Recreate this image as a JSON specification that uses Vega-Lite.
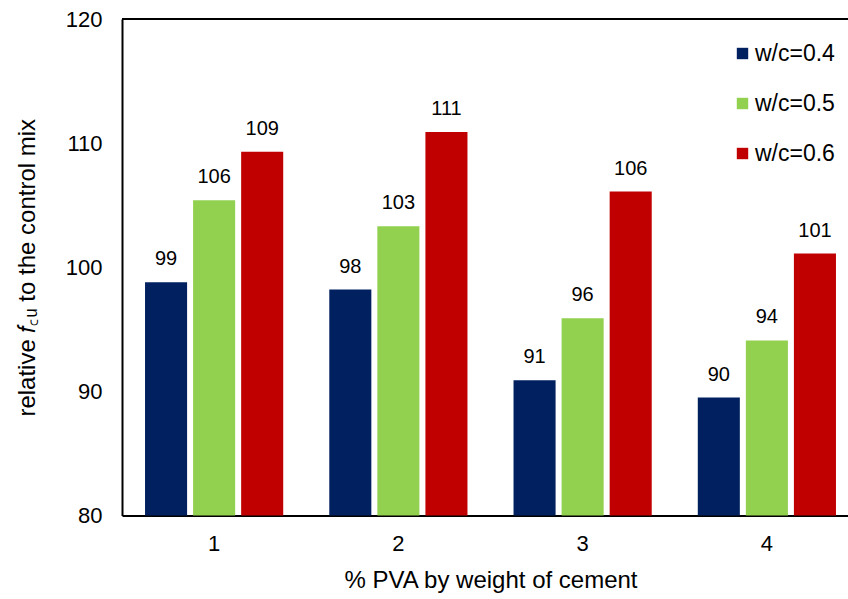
{
  "$schema": "https://vega.github.io/schema/vega-lite/v6.json",
  "autosize": {"type": "none"},
  "padding": {"left": 122, "top": 19, "right": 0, "bottom": 83.5},
  "width": 726,
  "height": 496.5,
  "config": {"view": {"stroke": null}, "font": "Liberation Sans", "background": "white"},
  "data": {
    "values": [
      {"pva": "1", "wc": "w/c=0.4", "value": 98.8, "label": "99"},
      {"pva": "1", "wc": "w/c=0.5", "value": 105.4, "label": "106"},
      {"pva": "1", "wc": "w/c=0.6", "value": 109.3, "label": "109"},
      {"pva": "2", "wc": "w/c=0.4", "value": 98.2, "label": "98"},
      {"pva": "2", "wc": "w/c=0.5", "value": 103.3, "label": "103"},
      {"pva": "2", "wc": "w/c=0.6", "value": 110.9, "label": "111"},
      {"pva": "3", "wc": "w/c=0.4", "value": 90.9, "label": "91"},
      {"pva": "3", "wc": "w/c=0.5", "value": 95.9, "label": "96"},
      {"pva": "3", "wc": "w/c=0.6", "value": 106.1, "label": "106"},
      {"pva": "4", "wc": "w/c=0.4", "value": 89.5, "label": "90"},
      {"pva": "4", "wc": "w/c=0.5", "value": 94.1, "label": "94"},
      {"pva": "4", "wc": "w/c=0.6", "value": 101.1, "label": "101"}
    ]
  },
  "layer": [
    {
      "mark": {"type": "bar"},
      "encoding": {
        "x": {
          "field": "pva", "type": "nominal",
          "scale": {"range": [0, 737], "paddingInner": 0.25, "paddingOuter": 0.125},
          "axis": {
            "title": "% PVA by weight of cement", "labelAngle": 0, "ticks": false, "grid": false,
            "domainColor": "black", "domainWidth": 2,
            "labelFontSize": 22, "labelColor": "black", "labelPadding": 18,
            "titleFontSize": 24, "titleFontWeight": "normal", "titleColor": "black", "titlePadding": 14
          }
        },
        "xOffset": {"field": "wc", "type": "nominal", "scale": {"paddingInner": 0.125, "paddingOuter": 0}},
        "y": {
          "field": "value", "type": "quantitative",
          "scale": {"domain": [80, 120], "nice": false, "zero": false},
          "axis": {
            "title": "relative 𝑓꜀ᵤ to the control mix", "values": [80, 90, 100, 110, 120],
            "ticks": false, "grid": false, "domainColor": "black", "domainWidth": 2,
            "labelFontSize": 22, "labelColor": "black", "labelPadding": 20,
            "titleFontSize": 24, "titleFontWeight": "normal", "titleColor": "black", "titlePadding": 26
          }
        },
        "y2": {"datum": 80},
        "color": {
          "field": "wc", "type": "nominal",
          "scale": {"domain": ["w/c=0.4", "w/c=0.5", "w/c=0.6"], "range": ["#002060", "#92D050", "#C00000"]},
          "legend": {
            "orient": "none", "legendX": 609, "legendY": 23, "title": null,
            "symbolType": "square", "symbolSize": 130, "symbolStrokeWidth": 0,
            "labelFontSize": 23, "labelColor": "black", "rowPadding": 26, "labelOffset": 1, "padding": 0
          }
        }
      }
    },
    {
      "mark": {"type": "text", "baseline": "alphabetic", "dy": -17, "fontSize": 20, "color": "black"},
      "encoding": {
        "x": {"field": "pva", "type": "nominal"},
        "xOffset": {"field": "wc", "type": "nominal"},
        "y": {"field": "value", "type": "quantitative"},
        "text": {"field": "label"}
      }
    },
    {
      "mark": {"type": "rule", "color": "black", "strokeWidth": 2},
      "encoding": {"y": {"datum": 120}}
    }
  ]
}
